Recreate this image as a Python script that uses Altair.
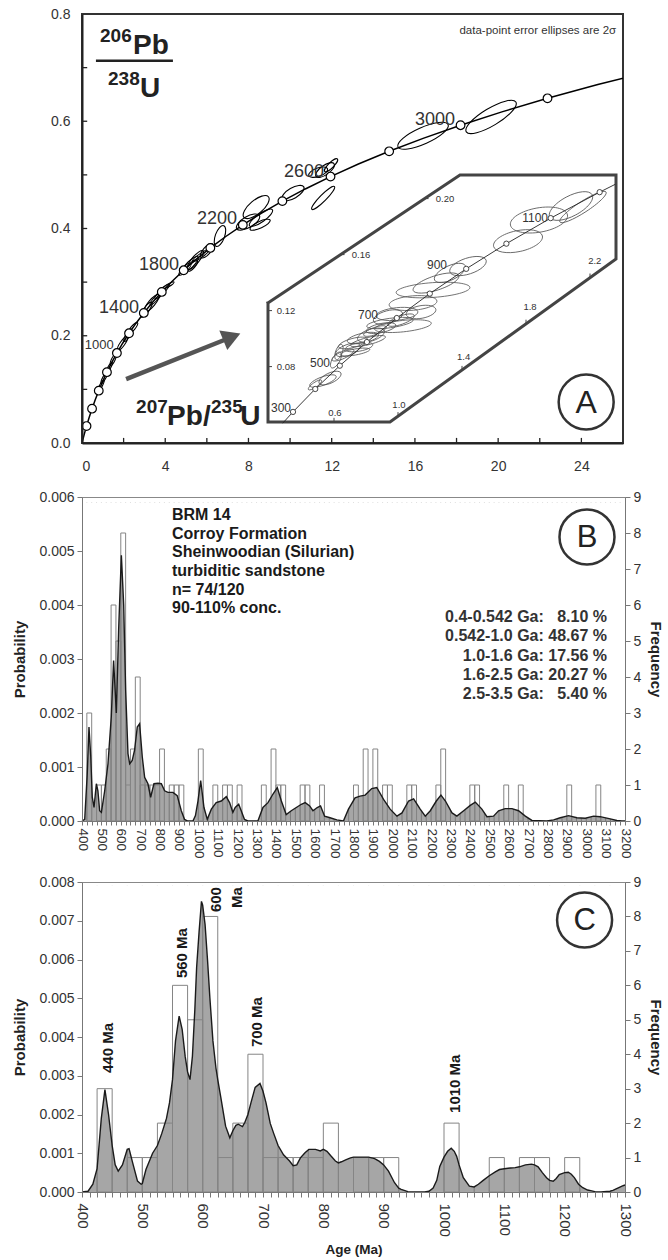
import altair as alt
import pandas as pd

FONT = "Liberation Sans"

# ===================== Panel A : concordia data =====================
conc_age = [0, 100, 200, 300, 400, 500, 600, 700, 800, 900, 1000, 1100, 1200, 1300, 1400, 1500, 1600,
            1700, 1800, 1900, 2000, 2100, 2200, 2300, 2400, 2500, 2600, 2700, 2800, 2900, 3000, 3100,
            3200, 3300, 3400]
conc_x = [0.0, 0.1035, 0.2177, 0.3437, 0.4828, 0.6363, 0.8056, 0.9925, 1.1987, 1.4263, 1.6774, 1.9545,
          2.2603, 2.5978, 2.9701, 3.3810, 3.8344, 4.3348, 4.8869, 5.4962, 6.1686, 6.9105, 7.7292, 8.6327,
          9.6296, 10.7298, 11.9438, 13.2834, 14.7617, 16.3931, 18.1932, 20.1797, 22.3717, 24.7907, 27.4600]
conc_y = [0.0, 0.01563, 0.03151, 0.04764, 0.06401, 0.08065, 0.09754, 0.11470, 0.13213, 0.14983, 0.16780,
          0.18606, 0.20460, 0.22343, 0.24256, 0.26198, 0.28171, 0.30175, 0.32210, 0.34277, 0.36376,
          0.38508, 0.40673, 0.42872, 0.45106, 0.47374, 0.49678, 0.52018, 0.54395, 0.56808, 0.59260,
          0.61749, 0.64278, 0.66846, 0.69455]
a_marker_ages = [200, 400, 600, 800, 1000, 1200, 1400, 1600, 1800, 2000, 2200, 2400, 2600, 2800, 3000, 3200]

# main-plot error ellipses (centre, semi-major axis in 207/235 units, shape class, tilt in degrees)
a_ell_x = [16.39, 19.66, 11.68, 11.35, 11.97, 11.59, 10.14, 8.37, 8.60, 7.98, 8.56, 6.63,
           4.95, 5.20, 5.45, 5.70, 6.00, 5.30, 3.10, 3.35, 3.60, 3.85, 4.13, 1.95, 2.20, 2.45,
           0.90, 1.10, 1.30, 1.50]
a_ell_y = [0.573, 0.608, 0.509, 0.505, 0.518, 0.457, 0.466, 0.440, 0.420, 0.412, 0.407, 0.386,
           0.3242, 0.3327, 0.3412, 0.3492, 0.3585, 0.331, 0.2487, 0.2605, 0.2715, 0.2823, 0.2935,
           0.1858, 0.2010, 0.2145, 0.1062, 0.1238, 0.1400, 0.1551]
a_ell_a = [1.32, 1.39, 0.53, 0.48, 0.43, 0.77, 0.60, 0.77, 0.67, 0.63, 0.53, 0.53,
           0.40, 0.53, 0.58, 0.48, 0.43, 0.34, 0.43, 0.53, 0.48, 0.48, 0.34, 0.38, 0.34, 0.34,
           0.34, 0.38, 0.34, 0.29]
a_ell_kind = ["mid", "mid", "wide", "wide", "mid", "thin", "wide", "wide", "mid", "wide", "mid", "wide",
              "mid", "mid", "mid", "thin", "wide", "wide", "mid", "mid", "thin", "thin", "thin", "mid",
              "mid", "mid", "thin", "thin", "thin", "mid"]
a_ell_tilt = [24, 31, 35, 20, 45, 45, 30, 40, 35, 30, 25, 70,
              45, 45, 50, 35, 50, 50, 55, 50, 48, 45, 30, 55, 60, 50,
              62, 62, 60, 65]

# labels on the main concordia
a_lab_x = [1.78, 3.70, 6.49, 10.67, 16.97]
a_lab_y = [0.2519, 0.332, 0.418, 0.5056, 0.6026]
a_lab_t = ["1400", "1800", "2200", "2600", "3000"]

# axis ticks / labels of panel A
a_xlabels = [0, 4, 8, 12, 16, 20, 24]
a_ylabels = [0.0, 0.2, 0.4, 0.6, 0.8]
a_xticks = [2, 4, 6, 8, 10, 12, 14, 16, 18, 20, 22, 24]
a_yticks = [0.1, 0.2, 0.3, 0.4, 0.5, 0.6, 0.7]

# ---------- inset (zoom of the young part of the concordia) ----------
inset_age = [250, 300, 400, 500, 600, 700, 800, 900, 1000, 1100, 1200, 1230]
inset_x = [0.2792, 0.3437, 0.4828, 0.6363, 0.8056, 0.9925, 1.1987, 1.4263, 1.6774, 1.9545, 2.2603, 2.3581]
inset_y = [0.03954, 0.04764, 0.06401, 0.08065, 0.09754, 0.11470, 0.13213, 0.14983, 0.16780, 0.18606,
           0.20460, 0.21022]
inset_marker_ages = [300, 400, 500, 600, 700, 800, 900, 1000, 1100, 1200]
frame_x = [0.1875, 0.1875, 0.95, 2.3625, 2.3625, 1.3875, 0.1875]
frame_y = [0.1254, 0.0404, 0.0404, 0.1569, 0.2169, 0.2169, 0.1254]

i_ell_x = [2.081, 2.156, 1.881, 1.750, 1.4375, 1.219, 1.2375, 1.094, 0.994, 1.144, 0.950, 1.031, 1.325,
           0.9375, 1.019, 0.719, 0.781, 0.831, 0.856, 0.756, 0.8125, 0.6875, 0.656, 0.731, 0.894,
           0.531, 0.575, 0.6125, 0.631, 0.481]
i_ell_y = [0.1947, 0.1940, 0.1847, 0.1696, 0.1518, 0.1347, 0.1397, 0.1254, 0.1176, 0.1190, 0.1111,
           0.1089, 0.1469, 0.1154, 0.1132, 0.0969, 0.1004, 0.1025, 0.1054, 0.0940, 0.0982, 0.0919,
           0.0883, 0.0904, 0.1075, 0.0697, 0.0718, 0.0847, 0.0904, 0.0669]
i_ell_a = [0.150, 0.172, 0.181, 0.156, 0.119, 0.231, 0.150, 0.150, 0.131, 0.094, 0.147, 0.178, 0.106,
           0.094, 0.0875, 0.094, 0.100, 0.0875, 0.075, 0.0875, 0.1125, 0.081, 0.075, 0.094, 0.094,
           0.0875, 0.075, 0.056, 0.050, 0.050]
i_ell_kind = ["wide", "thin", "wide", "wide", "wide", "thin", "mid", "mid", "mid", "wide", "thin", "thin",
              "wide", "wide", "mid", "mid", "mid", "wide", "mid", "mid", "thin", "wide", "mid", "thin",
              "mid", "mid", "wide", "wide", "wide", "mid"]
i_ell_tilt = [28, 33, 10, 12, 18, 4, 18, 5, 6, 10, 8, 6, 25, 15, 20, 15, 12, 18, 20, 10, 14, 20, 25, 10,
              12, 20, 25, 60, 70, 35]

i_lab_x = [0.269, 0.5125, 0.8125, 1.244, 1.857]
i_lab_y = [0.0504, 0.0826, 0.1168, 0.1526, 0.1861]
i_lab_t = ["300", "500", "700", "900", "1100"]
i_xt_lab_x = [0.606, 1.006, 1.41, 1.825, 2.23]
i_xt_lab_y = [0.0469, 0.0526, 0.0869, 0.1226, 0.1554]
i_xt_lab_t = ["0.6", "1.0", "1.4", "1.8", "2.2"]
i_yt_lab_x = [0.30, 0.30, 0.769, 1.294]
i_yt_lab_y = [0.0797, 0.1197, 0.1597, 0.1997]
i_yt_lab_t = ["0.08", "0.12", "0.16", "0.20"]
i_xtick_x = [0.6, 1.0, 1.4, 1.8, 2.2]
i_xtick_y = [0.0404, 0.0445, 0.0775, 0.1105, 0.1435]
i_ytick_x = [0.1875, 0.1875, 0.641, 1.166]
i_ytick_y = [0.08, 0.12, 0.16, 0.20]

# ===================== Panels B and C : detrital zircon ages =====================
hist_start = [425, 475, 500, 525, 550, 575, 600, 625, 650, 675, 700, 725, 750, 775, 800, 850, 875, 900,
              1000, 1075, 1125, 1150, 1200, 1325, 1375, 1400, 1425, 1525, 1550, 1625, 1800, 1850, 1900,
              1950, 1975, 2075, 2100, 2225, 2250, 2400, 2425, 2575, 2650, 2900, 3050]
hist_count = [3, 1, 1, 2, 6, 5, 8, 1, 2, 4, 1, 1, 1, 1, 2, 1, 1, 1,
              2, 1, 1, 1, 1, 1, 2, 1, 1, 1, 1, 1, 1, 2, 2,
              1, 1, 1, 1, 1, 2, 1, 1, 1, 1, 1, 1]

b_age = [400, 414, 427, 436, 445, 453, 462, 474, 482, 491, 500, 517, 534, 551, 563, 577, 589, 603, 615, 625,
         637, 646, 659, 671, 685, 697, 711, 723, 740, 754, 771, 792, 809, 826, 843, 869, 891, 912, 929, 945,
         972, 985, 998, 1012, 1029, 1046, 1067, 1092, 1118, 1144, 1161, 1178, 1190, 1208, 1221, 1238, 1255,
         1307, 1333, 1359, 1385, 1407, 1428, 1453, 1479, 1505, 1531, 1551, 1574, 1591, 1613, 1630, 1651,
         1679, 1714, 1748, 1774, 1808, 1834, 1860, 1894, 1920, 1955, 1989, 2024, 2050, 2084, 2110, 2144,
         2170, 2196, 2227, 2251, 2274, 2308, 2333, 2368, 2402, 2428, 2462, 2488, 2522, 2548, 2582, 2617,
         2651, 2686, 2720, 2797, 2832, 2866, 2909, 2952, 2995, 3038, 3072, 3124, 3158, 3184, 3200]
b_prob = [0, 0.00003, 0.00087, 0.00174, 0.0012, 0.00044, 0.00025, 0.00069, 0.00056, 0.00019,
          0.00016, 0.00056, 0.00106, 0.00193, 0.00297, 0.002, 0.00355, 0.00492, 0.004, 0.00243,
          0.00125, 0.00106, 0.00112, 0.00131, 0.00174, 0.0018, 0.00118, 0.00081, 0.00069, 0.00044,
          0.00069, 0.0007, 0.00069, 0.00056, 0.00053, 0.00053, 0.00047, 0.00019, 0.00003, 0,
          0, 0.0001, 0.00037, 0.00075, 0.00025, 0.00003, 0.00022, 0.00034, 0.00037, 0.00045,
          0.00034, 0.00016, 0.00025, 0.00031, 0.00019, 0.00003, 0, 0, 0.00025, 0.00034,
          0.0005, 0.00062, 0.00037, 0.00012, 0.00019, 0.00025, 0.00031, 0.00034, 0.00028, 0.00019,
          0.00025, 0.00028, 0.00009, 0.00006, 0.00002, 0, 0.00022, 0.00043, 0.00046, 0.00048,
          0.0006, 0.00062, 0.0004, 0.00022, 0.00009, 0.00015, 0.00037, 0.00041, 0.00022, 0.00009,
          0.00019, 0.00037, 0.00048, 0.00037, 0.00015, 0.00009, 0.00019, 0.00029, 0.00035, 0.00022,
          0.00008, 0.00009, 0.00019, 0.00023, 0.00023, 0.00019, 0.00009, 0.00001, 0, 0.00002,
          0.00006, 0.0001, 0.00006, 0.00005, 0.00009, 0.00008, 0.00004, 0.00001, 0, 0]

c_age = [400, 410, 418, 425, 432, 438, 444, 450, 455, 460,
         467, 475, 478, 484, 492, 498, 500, 506, 517, 525,
         532, 540, 545, 550, 555, 561, 566, 571, 575, 579,
         583, 587, 590, 594, 598, 600, 604, 608, 612, 617,
         622, 625, 630, 638, 645, 650, 655, 659, 666, 670,
         675, 680, 687, 695, 700, 705, 712, 718, 725, 734,
         744, 750, 756, 762, 770, 776, 787, 795, 800, 806,
         812, 820, 825, 830, 837, 845, 850, 862, 875, 885,
         893, 900, 908, 918, 925, 929, 940, 950, 968, 975,
         982, 988, 993, 1000, 1006, 1012, 1017, 1021, 1025, 1032,
         1042, 1050, 1057, 1065, 1075, 1085, 1092, 1100, 1110, 1118,
         1125, 1135, 1145, 1150, 1156, 1163, 1170, 1175, 1181, 1186,
         1191, 1200, 1206, 1211, 1216, 1223, 1230, 1238, 1245, 1250,
         1260, 1275, 1280, 1288, 1295, 1300]
c_prob = [0, 0.00002, 0.0002, 0.0006, 0.0019, 0.00264, 0.002, 0.0012, 0.0007, 0.00054,
          0.0007, 0.0011, 0.00112, 0.00075, 0.00028, 0.0002, 0.00022, 0.00058, 0.001, 0.0012,
          0.0015, 0.0019, 0.0023, 0.0029, 0.0039, 0.00454, 0.0042, 0.0035, 0.0031, 0.0029,
          0.0035, 0.0047, 0.0058, 0.0067, 0.0075, 0.0074, 0.0069, 0.006, 0.005, 0.0039,
          0.0032, 0.0029, 0.00245, 0.0017, 0.0014, 0.00158, 0.00172, 0.00175, 0.00169, 0.0018,
          0.002, 0.0023, 0.0027, 0.0028, 0.0026, 0.0023, 0.00177, 0.0015, 0.0012, 0.00096,
          0.0008, 0.00068, 0.0007, 0.00088, 0.00102, 0.0011, 0.0011, 0.00106, 0.0011, 0.00105,
          0.00094, 0.0008, 0.00075, 0.00078, 0.00083, 0.00088, 0.0009, 0.0009, 0.0009, 0.00086,
          0.00079, 0.0007, 0.00054, 0.00024, 0.0001, 0.00007, 0.00001, 0, 0, 0.00002,
          0.0001, 0.0003, 0.00066, 0.0009, 0.00105, 0.00113, 0.00105, 0.00092, 0.0007, 0.00037,
          0.00015, 0.00013, 0.0002, 0.0003, 0.00042, 0.00052, 0.00058, 0.0006, 0.00062, 0.00063,
          0.00065, 0.0007, 0.00072, 0.0007, 0.00065, 0.0005, 0.00037, 0.0003, 0.00028, 0.00035,
          0.00045, 0.0005, 0.00051, 0.00046, 0.00037, 0.0002, 0.00011, 0.00005, 0.00003, 0.00001,
          0, 0.00002, 0.00004, 0.0001, 0.00015, 0.00018]

assert len(b_age) == len(b_prob) and len(c_age) == len(c_prob)
assert len(hist_start) == len(hist_count)

FIG = "\u2007"  # figure space keeps the percentages aligned
b_text_left = "BRM 14\nCorroy Formation\nSheinwoodian (Silurian)\nturbiditic sandstone\nn= 74/120\n90-110% conc."
b_text_right = (f"0.4-0.542 Ga: {FIG}8.10 %\n0.542-1.0 Ga: 48.67 %\n1.0-1.6 Ga: 17.56 %\n"
                f"1.6-2.5 Ga: 20.27 %\n2.5-3.5 Ga: {FIG}5.40 %")
c_peak_x = [443, 566.5, 690.8, 1018]
c_peak_y = [0.00307, 0.00552, 0.00374, 0.00204]
c_peak_t = ["440 Ma", "560 Ma", "700 Ma", "1010 Ma"]
c_peak2_x = [622, 657]
c_peak2_y = [0.00787, 0.00787]
c_peak2_t = ["600", "Ma"]

# ===================== helpers =====================
def X(field, scale, axis=None):
    return alt.X(f"{field}:Q", scale=scale, axis=axis)


def Y(field, scale, axis=None):
    return alt.Y(f"{field}:Q", scale=scale, axis=axis)


def text_layer(xv, yv, labels, xs, ys, **mark):
    df = pd.DataFrame({"x": xv, "y": yv, "label": labels})
    return alt.Chart(df).mark_text(**mark).encode(x=X("x", xs), y=Y("y", ys), text="label:N")


def ellipse_path(r):
    k = 0.5523
    return (f"M-1,0C-1,{-k*r:.4f},{-k:.4f},{-r:.4f},0,{-r:.4f}"
            f"C{k:.4f},{-r:.4f},1,{-k*r:.4f},1,0"
            f"C1,{k*r:.4f},{k:.4f},{r:.4f},0,{r:.4f}"
            f"C{-k:.4f},{r:.4f},-1,{k*r:.4f},-1,0Z")


SHAPE_SCALE = alt.Scale(domain=["thin", "mid", "wide"],
                        range=[ellipse_path(0.2), ellipse_path(0.3), ellipse_path(0.42)])
TILT_SCALE = alt.Scale(domain=[0, 360], range=[360, 0])

# ===================== Panel A =====================
A_W, A_H = 541, 429
AX = alt.Scale(domain=[0, 26], nice=False, zero=False)
AY = alt.Scale(domain=[0, 0.8], nice=False, zero=False)
A_SIZE = alt.Scale(type="pow", exponent=2, domain=[0, 2], range=[0, (2 * 2 * A_W / 26) ** 2])
IX = alt.Scale(domain=[0, 2.5], range=[156, 556], nice=False, zero=False)
IY = alt.Scale(domain=[0, 0.25], range=[464.6, 114.6], nice=False, zero=False)
I_SIZE = alt.Scale(type="pow", exponent=2, domain=[0, 1], range=[0, (2 * 160) ** 2])

conc_df = pd.DataFrame({"age": conc_age, "x": conc_x, "y": conc_y})

a_axis_x = alt.Axis(values=a_xlabels, format="d", tickSize=0, labelPadding=16, labelFontSize=14,
                    labelColor="#333", domainColor="#222", domainWidth=2, title=None, zindex=1)
a_axis_y = alt.Axis(values=a_ylabels, format=".1f", tickSize=0, labelPadding=12, labelFontSize=14,
                    labelColor="#333", domainColor="#222", domainWidth=2, title=None, zindex=1)

a_line = alt.Chart(conc_df).mark_line(color="black", strokeWidth=1.5, clip=True).encode(
    x=X("x", AX, a_axis_x), y=Y("y", AY, a_axis_y), order="age:Q")

a_ell = alt.Chart(pd.DataFrame({"x": a_ell_x, "y": a_ell_y, "a": a_ell_a, "kind": a_ell_kind,
                                "tilt": a_ell_tilt})).mark_point(
    filled=False, color="black", strokeWidth=1.1, opacity=1).encode(
    x=X("x", AX), y=Y("y", AY),
    shape=alt.Shape("kind:N", scale=SHAPE_SCALE, legend=None),
    size=alt.Size("a:Q", scale=A_SIZE, legend=None),
    angle=alt.Angle("tilt:Q", scale=TILT_SCALE, legend=None))

a_marks = alt.Chart(conc_df).transform_filter(
    alt.FieldOneOfPredicate(field="age", oneOf=a_marker_ages)).mark_point(
    shape="circle", filled=True, fill="white", stroke="black", strokeWidth=1.2, size=75, opacity=1).encode(
    x=X("x", AX), y=Y("y", AY))

a_xt = alt.Chart(pd.DataFrame({"v": a_xticks})).transform_calculate(y0="0", y1="0.0095").mark_rule(
    color="#222", strokeWidth=1.3).encode(x=X("v", AX), y=Y("y0", AY), y2="y1:Q")
a_yt = alt.Chart(pd.DataFrame({"v": a_yticks})).transform_calculate(x0="0", x1="0.25").mark_rule(
    color="#222", strokeWidth=1.3).encode(y=Y("v", AY), x=X("x0", AX), x2="x1:Q")

a_labels = text_layer(a_lab_x, a_lab_y, a_lab_t, AX, AY, fontSize=18, color="#333",
                      align="center", baseline="middle")
a_lab1000 = text_layer([0.83], [0.1828], ["1000"], AX, AY, fontSize=13, color="#333",
                       align="center", baseline="middle")

# ratio titles
a_sup = text_layer([0.865, 1.25, 2.60, 6.20], [0.748, 0.668, 0.056, 0.056],
                   ["206", "238", "207", "235"], AX, AY, fontSize=19, fontWeight="bold",
                   align="left", baseline="alphabetic", color="#222")
a_big = text_layer([2.45, 2.79, 4.09, 7.60], [0.7257, 0.6455, 0.0336, 0.0336],
                   ["Pb", "U", "Pb/", "U"], AX, AY, fontSize=28, fontWeight="bold",
                   align="left", baseline="alphabetic", color="#222")
a_bar = alt.Chart(pd.DataFrame({"x": [0.67], "x2": [4.37], "y": [0.7127]})).mark_rule(
    color="#222", strokeWidth=2.5).encode(x=X("x", AX), x2="x2:Q", y=Y("y", AY))

a_note = text_layer([25.67], [0.763], ["data-point error ellipses are 2\u03c3"], AX, AY,
                    fontSize=11.5, color="#333", align="right", baseline="alphabetic")

a_arrow = alt.Chart(pd.DataFrame({"x": [2.12], "y": [0.119], "x2": [6.9], "y2": [0.193]})).mark_rule(
    color="#555", strokeWidth=4.5).encode(x=X("x", AX), y=Y("y", AY), x2="x2:Q", y2="y2:Q")
a_head = alt.Chart(pd.DataFrame({"x": [7.2], "y": [0.198]})).mark_point(
    shape="triangle-right", filled=True, color="#555", size=450, angle=338, opacity=1).encode(
    x=X("x", AX), y=Y("y", AY))

a_circ = alt.Chart(pd.DataFrame({"x": [24.23], "y": [0.0765]})).mark_point(
    shape="circle", filled=False, color="#333", size=3025, strokeWidth=2.5, opacity=1).encode(
    x=X("x", AX), y=Y("y", AY))
a_letter = text_layer([24.23], [0.0765], ["A"], AX, AY, fontSize=32, color="#222",
                      align="center", baseline="middle", dy=1)

# inset layers
inset_df = pd.DataFrame({"age": inset_age, "x": inset_x, "y": inset_y})
i_frame = alt.Chart(pd.DataFrame({"i": list(range(len(frame_x))), "x": frame_x, "y": frame_y})).mark_line(
    color="#444", strokeWidth=3, strokeCap="square", strokeJoin="miter").encode(
    x=X("x", IX), y=Y("y", IY), order="i:Q")
i_line = alt.Chart(inset_df).mark_line(color="#222", strokeWidth=0.9).encode(
    x=X("x", IX), y=Y("y", IY), order="age:Q")
i_ell = alt.Chart(pd.DataFrame({"x": i_ell_x, "y": i_ell_y, "a": i_ell_a, "kind": i_ell_kind,
                                "tilt": i_ell_tilt})).mark_point(
    filled=False, color="#555", strokeWidth=0.8, opacity=1).encode(
    x=X("x", IX), y=Y("y", IY),
    shape=alt.Shape("kind:N", scale=SHAPE_SCALE, legend=None),
    size=alt.Size("a:Q", scale=I_SIZE, legend=None),
    angle=alt.Angle("tilt:Q", scale=TILT_SCALE, legend=None))
i_marks = alt.Chart(inset_df).transform_filter(
    alt.FieldOneOfPredicate(field="age", oneOf=inset_marker_ages)).mark_point(
    shape="circle", filled=True, fill="white", stroke="#333", strokeWidth=0.9, size=28, opacity=1).encode(
    x=X("x", IX), y=Y("y", IY))
i_labels = text_layer(i_lab_x, i_lab_y, i_lab_t, IX, IY, fontSize=12, color="#333",
                      align="center", baseline="middle")
i_xt_labels = text_layer(i_xt_lab_x, i_xt_lab_y, i_xt_lab_t, IX, IY, fontSize=9.5, color="#333",
                         align="center", baseline="middle")
i_yt_labels = text_layer(i_yt_lab_x, i_yt_lab_y, i_yt_lab_t, IX, IY, fontSize=9.5, color="#333",
                         align="center", baseline="middle")
i_xt = alt.Chart(pd.DataFrame({"x": i_xtick_x, "y": i_xtick_y})).transform_calculate(
    y2="datum.y + 0.003").mark_rule(color="#444", strokeWidth=1).encode(
    x=X("x", IX), y=Y("y", IY), y2="y2:Q")
i_yt = alt.Chart(pd.DataFrame({"x": i_ytick_x, "y": i_ytick_y})).transform_calculate(
    x2="datum.x + 0.025").mark_rule(color="#444", strokeWidth=1).encode(
    x=X("x", IX), x2="x2:Q", y=Y("y", IY))

panel_a = alt.layer(
    a_line, a_yt, a_xt, a_ell, a_marks, a_labels, a_lab1000, a_sup, a_big, a_bar,
    a_note, a_arrow, a_head, a_circ, a_letter,
    i_frame, i_ell, i_line, i_marks, i_labels, i_xt_labels, i_yt_labels, i_xt, i_yt
).resolve_scale(x="independent", y="independent", size="independent").properties(
    width=A_W, height=A_H, view=alt.ViewBackground(stroke="#333", strokeWidth=2))

# ===================== Panels B, C =====================
FQ = alt.Scale(domain=[0, 9], nice=False, zero=True)


def hist_panel(age, prob, xs, ys, top, yvals, xaxis, edges, hist_df, bin_w, extra, width, height):
    curve = pd.DataFrame({"age": age, "prob": prob})
    yaxis = alt.Axis(values=yvals, format=".3f", title="Probability", titleFontSize=15,
                     titleFontWeight="bold", titlePadding=11, titleColor="#222", labelFontSize=14,
                     labelColor="#333", tickSize=5, labelPadding=3, domainColor="#777",
                     tickColor="#777", zindex=1, orient="left")
    faxis = alt.Axis(orient="right", values=list(range(10)), title="Frequency", titleFontSize=15,
                     titleFontWeight="bold", titlePadding=7, titleColor="#222", labelFontSize=14,
                     labelColor="#333", tickSize=5, labelPadding=3, domainColor="#777",
                     tickColor="#777", zindex=1)
    area = alt.Chart(curve).mark_area(color="#a6a6a6", opacity=1).encode(
        x=X("age", xs, xaxis), y=Y("prob", ys, yaxis))
    rules = alt.Chart(pd.DataFrame({"edge": edges})).transform_calculate(
        y0="0", y1=str(top)).mark_rule(color="#6a6a6a", strokeWidth=0.7).encode(
        x=X("edge", xs), y=Y("y0", ys), y2="y1:Q")
    mask = alt.Chart(curve).transform_calculate(top=str(top)).mark_area(
        color="white", opacity=1).encode(x=X("age", xs), y=Y("prob", ys), y2="top:Q")
    bars = alt.Chart(hist_df).transform_calculate(
        end=f"datum.start + {bin_w}", zero="0").mark_rect(
        fillOpacity=0, stroke="#858585", strokeWidth=1).encode(
        x=X("start", xs), x2="end:Q", y=Y("count", FQ, faxis), y2="zero:Q")
    line = alt.Chart(curve).mark_line(color="#1a1a1a", strokeWidth=1.4).encode(
        x=X("age", xs), y=Y("prob", ys))
    return alt.layer(area, rules, mask, bars, line, *extra).resolve_scale(
        x="independent", y="independent").properties(
        width=width, height=height, view=alt.ViewBackground(stroke="#888", strokeWidth=1))


hist_df = pd.DataFrame({"start": hist_start, "count": hist_count})

# ---- B ----
BX = alt.Scale(domain=[400, 3200], nice=False, zero=False)
BY = alt.Scale(domain=[0, 0.006], nice=False, zero=True)
b_ticks = list(range(400, 3201, 25))
b_xaxis = alt.Axis(values=b_ticks, labelExpr="datum.value % 100 === 0 ? datum.label : ''",
                   format="d", labelAngle=90, labelFontSize=13.5, labelColor="#333", tickSize=4,
                   labelPadding=3, title=None, labelOverlap=False, labelFlush=False,
                   domainColor="#777", tickColor="#777", zindex=1, orient="bottom")
b_extra = [
    text_layer([864], [0.005815], [b_text_left], BX, BY, align="left", baseline="top", fontSize=16,
               fontWeight="bold", lineBreak="\n", lineHeight=18.7, color="#1a1a1a"),
    text_layer([3107], [0.003926], [b_text_right], BX, BY, align="right", baseline="top", fontSize=16,
               fontWeight="bold", lineBreak="\n", lineHeight=19.3, color="#333"),
    alt.Chart(pd.DataFrame({"x": [3004], "y": [0.00526]})).mark_point(
        shape="circle", filled=False, color="#333", size=3025, strokeWidth=2.5, opacity=1).encode(
        x=X("x", BX), y=Y("y", BY)),
    text_layer([3004], [0.00526], ["B"], BX, BY, fontSize=31, color="#222", align="center",
               baseline="middle", dy=1),
]
panel_b = hist_panel(b_age, b_prob, BX, BY, 0.0059, [0, 0.001, 0.002, 0.003, 0.004, 0.005, 0.006],
                     b_xaxis, list(range(425, 3200, 25)), hist_df, 25, b_extra, 543, 324)

# ---- C ----
CX = alt.Scale(domain=[400, 1300], nice=False, zero=False)
CY = alt.Scale(domain=[0, 0.008], nice=False, zero=True)
c_ticks = [400 + 12.5 * i for i in range(73)]
c_xaxis = alt.Axis(values=c_ticks, labelExpr="datum.value % 100 === 0 ? datum.label : ''",
                   format="d", labelAngle=90, labelFontSize=15, labelColor="#333", tickSize=5,
                   labelPadding=6, title="Age (Ma)", titleFontSize=13.5, titleFontWeight="bold",
                   titleColor="#222", titlePadding=6, labelOverlap=False, labelFlush=False,
                   domainColor="#777", tickColor="#777", zindex=1, orient="bottom")
c_extra = [
    text_layer(c_peak_x, c_peak_y, c_peak_t, CX, CY, angle=270, align="left", baseline="middle",
               fontSize=15, fontWeight="bold", color="#1a1a1a"),
    text_layer(c_peak2_x, c_peak2_y, c_peak2_t, CX, CY, angle=270, align="right", baseline="middle",
               fontSize=15, fontWeight="bold", color="#1a1a1a"),
    alt.Chart(pd.DataFrame({"x": [1233], "y": [0.00702]})).mark_point(
        shape="circle", filled=False, color="#333", size=3025, strokeWidth=2.5, opacity=1).encode(
        x=X("x", CX), y=Y("y", CY)),
    text_layer([1233], [0.00702], ["C"], CX, CY, fontSize=31, color="#222", align="center",
               baseline="middle", dy=1),
]
panel_c = hist_panel(c_age, c_prob, CX, CY, 0.0079,
                     [0, 0.001, 0.002, 0.003, 0.004, 0.005, 0.006, 0.007, 0.008],
                     c_xaxis, list(range(425, 1300, 25)), hist_df[hist_df["start"] < 1300], 25,
                     c_extra, 543, 310)

chart = alt.vconcat(panel_a, panel_b, panel_c, spacing=15).properties(
    padding={"left": 12, "top": 6, "right": 0, "bottom": 0}
).configure(font=FONT).configure_axis(grid=False, labelFont=FONT, titleFont=FONT)

chart.save("out.html", embed_options={"renderer": "svg", "actions": False})
